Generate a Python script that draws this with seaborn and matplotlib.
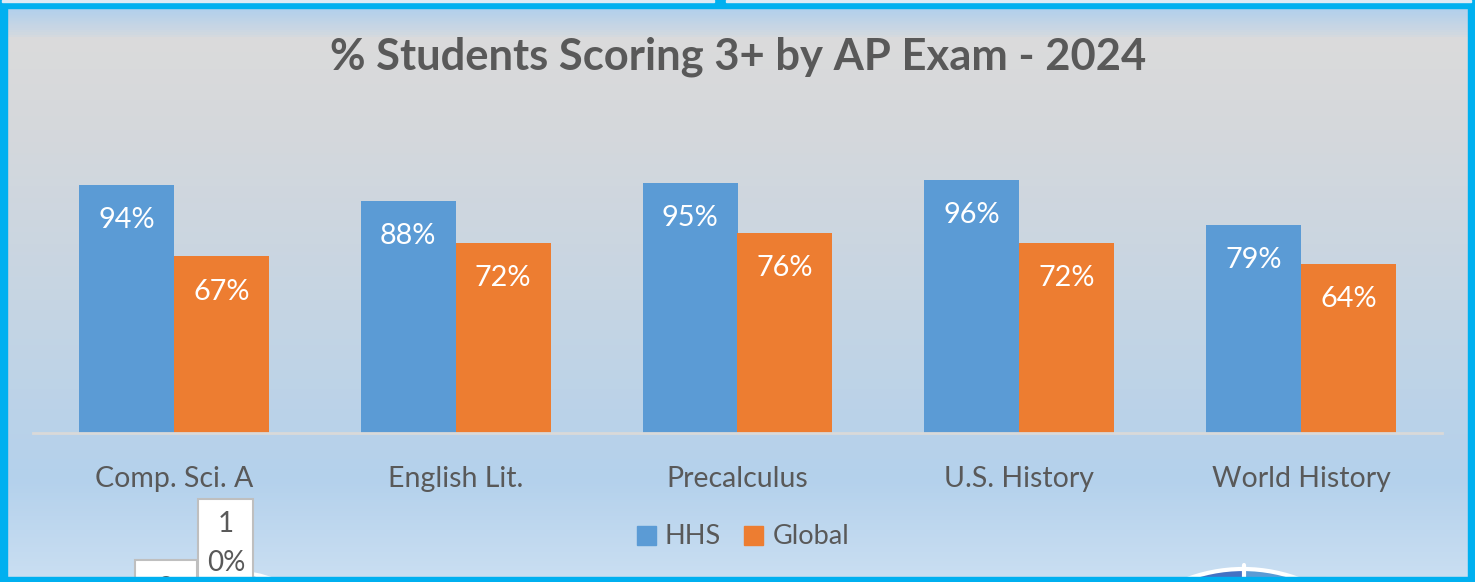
import matplotlib
matplotlib.use("Agg")
import matplotlib.pyplot as plt
from matplotlib.colors import LinearSegmentedColormap
from matplotlib.patches import Rectangle, Circle, Wedge
import numpy as np
import pandas as pd
import seaborn as sns

exams = ["Comp. Sci. A", "English Lit.", "Precalculus", "U.S. History", "World History"]
hhs = [94, 88, 95, 96, 79]
global_pct = [67, 72, 76, 72, 64]
series = ["HHS", "Global"]
title = "% Students Scoring 3+ by AP Exam - 2024"

df = pd.DataFrame({
    "exam": exams * 2,
    "pct": hhs + global_pct,
    "group": ["HHS"] * len(exams) + ["Global"] * len(exams),
})

sns.set_theme(style="white")
plt.rcParams["font.family"] = ["Lato", "DejaVu Sans"]
text_col = "#595959"
blue, orange = "#5B9BD5", "#ED7D31"
W, H = 1475, 582

fig = plt.figure(figsize=(W / 100, H / 100), dpi=100)

# background: gradient panel + borders, in pixel coords
bg = fig.add_axes([0, 0, 1, 1], zorder=0)
bg.set_xlim(0, W)
bg.set_ylim(H, 0)
bg.axis("off")
stops = [(0, "#B2D0EC"), (8, "#B2D0EC"), (34, "#D2D9E0"), (35, "#DBDBDB"),
         (130, "#D5D8DC"), (300, "#C6D5E3"), (480, "#B4D1EC"), (582, "#CADFF2")]
cmap = LinearSegmentedColormap.from_list("bgg", [(y / H, c) for y, c in stops])
grad = np.linspace(0, 1, 600).reshape(-1, 1)
bg.imshow(grad, cmap=cmap, aspect="auto", extent=[0, W, H, 0], zorder=0)

cyan = "#00B0F0"
bg.add_patch(Rectangle((0, 0), W, 8, color=cyan, zorder=5))
bg.add_patch(Rectangle((2, 0), 712, 2, color="#DDEAF5", zorder=6))
bg.add_patch(Rectangle((726, 0), 745, 2, color="#DDEAF5", zorder=6))
bg.add_patch(Rectangle((0, 0), 7, H, color=cyan, zorder=5))
bg.add_patch(Rectangle((1468, 0), 7, H, color=cyan, zorder=5))

# fragments of neighbouring objects peeking in at the bottom
bg.add_patch(Circle((230, 695), 123, facecolor=blue, edgecolor="white", lw=3, zorder=2))
bg.add_patch(Circle((1243, 728), 159, facecolor="#4472C4", edgecolor="none", zorder=2))
bg.add_patch(Wedge((1243, 728), 159, -90, 90, facecolor=blue, edgecolor="none", zorder=2.2))
bg.add_patch(Circle((1243, 728), 159, facecolor="none", edgecolor="white", lw=3, zorder=2.5))
bg.plot([1243.5, 1243.5], [565, 582], color="white", lw=3, zorder=2.6)
bg.add_patch(Rectangle((1253, 578), 72, 10, facecolor="#E8EEF4", edgecolor="#BFBFBF", lw=1.5, zorder=3))
bg.add_patch(Rectangle((135, 560), 62, 30, facecolor="white", edgecolor="#BFBFBF", lw=1.5, zorder=3))
bg.add_patch(Rectangle((198, 499), 55, 90, facecolor="white", edgecolor="#BFBFBF", lw=1.5, zorder=3))
bg.text(226, 524, "1", ha="center", va="center", fontsize=20, color=text_col, zorder=4)
bg.text(226, 563, "0%", ha="center", va="center", fontsize=20, color=text_col, zorder=4)
bg.text(166, 589, "2", ha="center", va="center", fontsize=20, color=text_col, zorder=4)
bg.add_patch(Rectangle((0, 577), W, 5, color=cyan, zorder=5))

# main chart
ax = fig.add_axes([33 / W, (H - 433) / H, 1409 / W, 263.5 / H], zorder=1)
ax.set_facecolor("none")
sns.barplot(data=df, x="exam", y="pct", hue="group", hue_order=series,
            palette=[blue, orange], width=0.674, saturation=1, linewidth=0, ax=ax)
ax.set_ylim(0, 100)
ax.set_xlim(-0.5, len(exams) - 0.5)
for s in ["top", "right", "left"]:
    ax.spines[s].set_visible(False)
ax.spines["bottom"].set_color("#D9D9D9")
ax.spines["bottom"].set_linewidth(2)
ax.set_yticks([])
ax.set_xlabel("")
ax.set_ylabel("")
ax.tick_params(axis="x", length=0, pad=24, labelsize=20.5, labelcolor=text_col)
ax.legend_.remove()

for cont in ax.containers:
    for bar in cont:
        v = bar.get_height()
        ax.text(bar.get_x() + bar.get_width() / 2, v - 13.3, f"{v:.0f}%",
                ha="center", va="center", color="white", fontsize=20.8)

handles = [Rectangle((0, 0), 1, 1, color=c) for c in (blue, orange)]
fig.legend(handles, series, loc="center", bbox_to_anchor=(743 / W, 1 - 537 / H),
           ncol=2, frameon=False, fontsize=19.5, labelcolor=text_col,
           handlelength=0.7, handleheight=0.7, handletextpad=0.35, columnspacing=0.85)

fig.text(738 / W, 1 - 57 / H, title, ha="center", va="center",
         fontsize=31.3, fontweight="bold", color=text_col)

fig.savefig("out.png", dpi=100)
